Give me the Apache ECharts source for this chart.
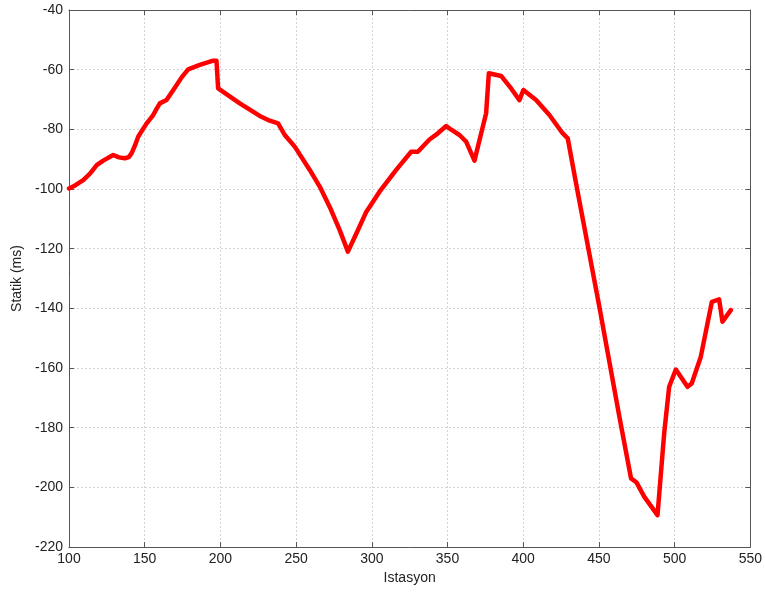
<!DOCTYPE html>
<html>
<head>
<meta charset="utf-8">
<script src="https://cdn.jsdelivr.net/npm/echarts@6/dist/echarts.min.js"></script>
<style>
  html, body { margin: 0; padding: 0; background: #fff; }
  #chart { width: 765px; height: 595px; }
</style>
</head>
<body>
<div id="chart"></div>
<script>
// Station numbers along the profile
var stations = [100, 104, 109.4, 114, 118.3, 122.6, 129.2, 133, 136.9, 139.5, 141.4, 143.5, 145.7, 148.5, 151.3, 155.6,
  158, 160, 164.4, 170, 174.5, 178.7, 186.4, 195.2, 197.4, 198.5,
  212.8, 219.4, 226, 232.6, 238.1, 242.5, 249.1, 259, 265.6, 272.2, 278.8, 284.2, 289.8, 296.4, 305.1, 316.1, 326,
  330.4, 338.1, 342.5, 349.1, 353, 357.9, 362.3,
  367.8, 375.5, 377.3, 385.4, 392, 397.5, 400.1, 408.5, 417.3, 426, 429.4, 434.9, 450.3, 463.5, 471.2, 474.9,
  479.9, 488.7, 493.1, 496.4, 500.8, 508.5, 511.3, 517.3, 524.6, 529.4, 531.6, 537.1];
// Static correction (ms) at each station
var statik = [-99.8, -98.8, -97, -94.8, -92, -90.5, -88.6, -89.4, -89.7, -89.3, -88, -85.5, -82.5, -80.2, -78, -75.2,
  -73.0, -71.3, -70.2, -66.0, -62.5, -59.9, -58.4, -57.0, -57.0, -66.3,
  -71.3, -73.4, -75.5, -77.1, -78.0, -81.9, -85.8, -93.6, -99.2, -106, -113.8, -121, -114.9, -107.6, -100.9, -93.6, -87.5,
  -87.5, -83.4, -81.8, -78.9, -80.3, -81.9, -84.1,
  -90.5, -74.6, -61.2, -62.1, -66.3, -70.2, -66.8, -70.2, -75.2, -81.3, -83, -98.1, -139.5, -176.3, -197.0, -198.4,
  -203.1, -209.3, -181.9, -166.3, -160.5, -166.3, -165.2, -156.2, -137.8, -137.0, -144.5, -140.6];

var xTicks = { min: 100, max: 550, step: 50 };
var yTicks = { min: -220, max: -40, step: 20 };

var points = stations.map(function (s, i) { return [s, statik[i]]; });

var chart = echarts.init(document.getElementById('chart'), null, { renderer: 'canvas' });
var font = 'Liberation Sans, Arial, sans-serif';
var axisLine = { show: true, lineStyle: { color: '#555', width: 1 } };
var tick = { show: true, inside: true, length: 5, lineStyle: { color: '#555' } };
var grid = { show: true, lineStyle: { color: '#d4d4d4', type: [2, 2], width: 1 } };

chart.setOption({
  animation: false,
  backgroundColor: '#fff',
  grid: { left: 69, right: 14, top: 10, bottom: 48, containLabel: false },
  xAxis: [{
    type: 'value', min: xTicks.min, max: xTicks.max, interval: xTicks.step,
    position: 'bottom',
    name: 'Istasyon', nameLocation: 'middle', nameGap: 24,
    nameTextStyle: { color: '#222', fontSize: 14, fontFamily: font },
    axisLine: axisLine, axisTick: tick, splitLine: grid,
    axisLabel: { color: '#222', fontSize: 14, fontFamily: font, margin: 5 }
  }, {
    type: 'value', min: xTicks.min, max: xTicks.max, interval: xTicks.step,
    position: 'top', axisLine: axisLine, axisTick: tick, splitLine: { show: false },
    axisLabel: { show: false }
  }],
  yAxis: [{
    type: 'value', min: yTicks.min, max: yTicks.max, interval: yTicks.step,
    position: 'left',
    name: 'Statik (ms)', nameLocation: 'middle', nameGap: 42, nameRotate: 90,
    nameTextStyle: { color: '#222', fontSize: 14, fontFamily: font },
    axisLine: axisLine, axisTick: tick, splitLine: grid,
    axisLabel: { color: '#222', fontSize: 14, fontFamily: font, margin: 6 }
  }, {
    type: 'value', min: yTicks.min, max: yTicks.max, interval: yTicks.step,
    position: 'right', axisLine: axisLine, axisTick: tick, splitLine: { show: false },
    axisLabel: { show: false }
  }],
  series: [{
    type: 'line',
    data: points,
    showSymbol: false,
    smooth: false,
    lineStyle: { color: '#ff0000', width: 4.5, cap: 'round', join: 'round' },
    itemStyle: { color: '#ff0000' }
  }]
});
</script>
</body>
</html>
